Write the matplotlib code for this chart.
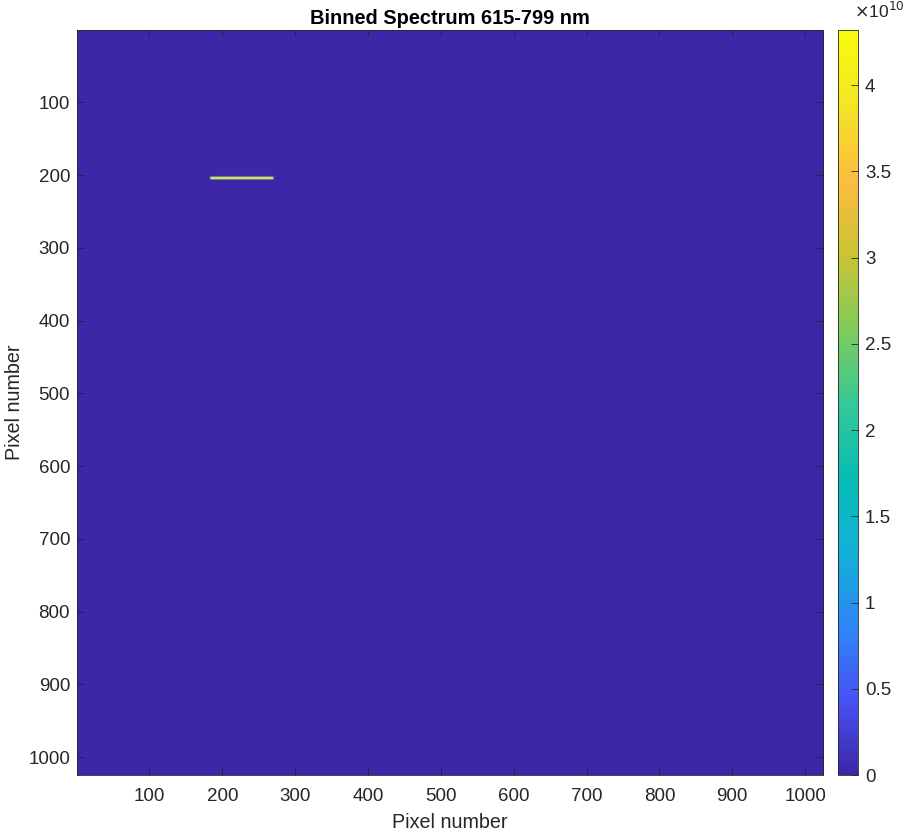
import numpy as np
import matplotlib
matplotlib.use('Agg')
import matplotlib.pyplot as plt
from matplotlib.colors import LinearSegmentedColormap

plt.rcParams['font.family'] = ['Liberation Sans', 'DejaVu Sans']

# detector size (pixels)
n_rows = 1024
n_cols = 1024

# the bright stripe (values in units of 1e10)
stripe_rows = [202, 203, 204, 205, 206, 207, 208]
stripe_row_vals = [0.1, 0.8, 3.6, 4.32, 3.7, 0.9, 0.1]
stripe_col_start = 183
stripe_col_end = 270
stripe_end_taper = [0.35, 0.8]   # relative level of the two outer columns at each end

cbar_ticks = [0, 0.5, 1, 1.5, 2, 2.5, 3, 3.5, 4]
cbar_labels = ['0', '0.5', '1', '1.5', '2', '2.5', '3', '3.5', '4']
xy_ticks = [100, 200, 300, 400, 500, 600, 700, 800, 900, 1000]

# matlab parula, approximate
parula_pts = [(0.2422, 0.1504, 0.6603), (0.2810, 0.3228, 0.9579), (0.1786, 0.5289, 0.9682),
              (0.0689, 0.6948, 0.8394), (0.0267, 0.7408, 0.7090), (0.2161, 0.7843, 0.5923),
              (0.5044, 0.7993, 0.3480), (0.7953, 0.7640, 0.2080), (0.9891, 0.7371, 0.2556),
              (0.9572, 0.8974, 0.1429), (0.9763, 0.9831, 0.0538)]
parula = LinearSegmentedColormap.from_list('parula', parula_pts, N=256)

img = np.zeros((n_rows, n_cols))
col_prof = np.ones(stripe_col_end - stripe_col_start + 1)
col_prof[:2] = stripe_end_taper
col_prof[-2:] = stripe_end_taper[::-1]
for r, v in zip(stripe_rows, stripe_row_vals):
    img[r - 1, stripe_col_start - 1:stripe_col_end] = v * 1e10 * col_prof

fig = plt.figure(figsize=(9.1, 8.32), dpi=100)
ax = fig.add_axes([0.0846, 0.0685, 0.8198, 0.8955])
cax = fig.add_axes([0.9209, 0.0685, 0.022, 0.8955])

im = ax.imshow(img, cmap=parula, vmin=0, vmax=4.32e10, aspect='auto',
               extent=(0.5, n_cols + 0.5, n_rows + 0.5, 0.5), interpolation='bilinear')
ax.set_xticks(xy_ticks)
ax.set_yticks(xy_ticks)
ax.tick_params(direction='in', top=True, right=True, length=5, width=0.6,
               colors='#262626', labelsize=13.5)
ax.tick_params(axis='x', pad=9)
ax.tick_params(axis='y', pad=5)
for s in ax.spines.values():
    s.set_color('#262626')
    s.set_linewidth(0.6)
ax.set_xlabel('Pixel number', fontsize=14.2, color='#262626', labelpad=6)
ax.set_ylabel('Pixel number', fontsize=14.2, color='#262626', labelpad=3)
ax.set_title('Binned Spectrum 615-799 nm', fontsize=14.4, fontweight='bold', pad=4)

cb = fig.colorbar(im, cax=cax)
cb.set_ticks([t * 1e10 for t in cbar_ticks])
cb.set_ticklabels(cbar_labels)
cb.ax.tick_params(direction='in', length=5, width=0.6, colors='#262626', labelsize=13.5, pad=5)
cb.outline.set_edgecolor('#262626')
cb.outline.set_linewidth(0.6)
fig.text(0.939, 0.975, r'$\times$10$^{10}$', fontsize=12.5, color='#262626', ha='left', va='bottom')

fig.savefig('out.png', dpi=100)
